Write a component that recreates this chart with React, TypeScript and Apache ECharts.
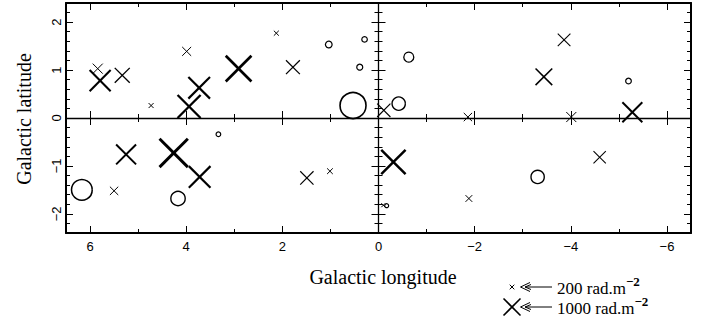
import React, { useEffect, useRef } from "react";
import * as echarts from "echarts";

// ---- Data (galactic longitude, latitude, rotation measure magnitude) ----
const crossLon = [5.84, 5.79, 5.33, 4.73, 3.99, 3.94, 3.73, 2.91, 2.125, 1.78, -0.11, -1.86, -3.86, -3.44, -4.01, -5.28, 5.25, 4.26, 3.72, 5.5, 1.49, 1.01, -0.31, -0.1, -1.88, -4.6];
const crossLat = [1.03, 0.78, 0.89, 0.26, 1.39, 0.24, 0.63, 1.03, 1.77, 1.06, 0.16, 0.02, 1.63, 0.86, 0.02, 0.12, -0.76, -0.73, -1.23, -1.52, -1.25, -1.11, -0.92, -1.82, -1.68, -0.82];
const crossRM = [550, 1260, 870, 225, 480, 1390, 1300, 1560, 225, 800, 760, 440, 720, 980, 550, 1190, 1190, 1730, 1300, 440, 760, 270, 1470, 160, 335, 700];

const circleLon = [1.04, 0.29, 0.39, 0.53, -0.42, -0.63, -5.2, 3.33, 6.17, 4.17, -0.17, -3.31];
const circleLat = [1.56, 1.64, 1.06, 0.26, 0.3, 1.27, 0.77, -0.34, -1.5, -1.68, -1.83, -1.23];
const circleRM = [335, 260, 290, 1580, 760, 550, 270, 205, 1240, 830, 160, 760];

const legendRM = [200, 1000];
const legendLabels = ["200 rad.m", "1000 rad.m"];

const xMajorTicks = [-6, -4, -2, 0, 2, 4, 6];
const xMinorTicks = [-5, -3, -1, 1, 3, 5];
const yMajorTicks = [-2, -1, 0, 1, 2];
const yMinorTicks = [-2.2, -1.8, -1.6, -1.4, -1.2, -0.8, -0.6, -0.4, -0.2, 0.2, 0.4, 0.6, 0.8, 1.2, 1.4, 1.6, 1.8, 2.2];

const X_MIN = -6.5;
const X_MAX = 6.5;
const Y_MIN = -2.4;
const Y_MAX = 2.4;

// ---- Styling helpers ----
const sizeOf = (rm: number) => 1.5 + Math.abs(rm) * 0.0155;
const crossWidth = (s: number) => 1 + Math.max(0, s - 12) * 0.12;
const circleWidth = (s: number) => 1.1 + s * 0.02;
const fmt = (v: number) => String(v).replace("-", "\u2212");

const MAJOR = 7;
const MINOR = 4;
const SANS = "'Liberation Sans', Arial, sans-serif";
const SERIF = "'Liberation Serif', 'Times New Roman', Times, serif";

function xAxisDef(position: string, onZero: boolean, ticks: number[], len: number, lineW: number, labels: boolean) {
  return {
    type: "value",
    min: X_MIN,
    max: X_MAX,
    inverse: true,
    position,
    axisLine: { show: lineW > 0, onZero, onZeroAxisIndex: 0, lineStyle: { color: "#000", width: lineW || 1 } },
    axisTick: { show: true, inside: true, length: len, customValues: ticks, lineStyle: { color: "#000", width: 1 } },
    axisLabel: labels
      ? { show: true, customValues: xMajorTicks, formatter: fmt, margin: 7, fontFamily: SANS, fontSize: 13, color: "#000" }
      : { show: false },
    splitLine: { show: false },
  };
}

function yAxisDef(position: string, onZero: boolean, ticks: number[], len: number, lineW: number, labels: boolean) {
  return {
    type: "value",
    min: Y_MIN,
    max: Y_MAX,
    position,
    axisLine: { show: lineW > 0, onZero, onZeroAxisIndex: 0, lineStyle: { color: "#000", width: lineW || 1 } },
    axisTick: { show: true, inside: true, length: len, customValues: ticks, lineStyle: { color: "#000", width: 1 } },
    axisLabel: labels
      ? { show: true, customValues: yMajorTicks, formatter: fmt, rotate: 90, margin: 3, fontFamily: SANS, fontSize: 13, color: "#000" }
      : { show: false },
    splitLine: { show: false },
  };
}

export default function App() {
  const ref = useRef<HTMLDivElement>(null);

  useEffect(() => {
    if (!ref.current) return;
    const chart = echarts.init(ref.current, null, { renderer: "svg" });

    const crossData = crossLon.map((x, i) => [x, crossLat[i], crossRM[i]]);
    const circleData = circleLon.map((x, i) => [x, circleLat[i], circleRM[i]]);

    const xAxes = [
      xAxisDef("bottom", false, xMajorTicks, MAJOR, 2, true),
      xAxisDef("bottom", false, xMinorTicks, MINOR, 0, false),
      xAxisDef("top", false, xMajorTicks, MAJOR, 2, false),
      xAxisDef("top", false, xMinorTicks, MINOR, 0, false),
      xAxisDef("bottom", true, xMajorTicks, MAJOR, 1.3, false),
      xAxisDef("bottom", true, xMinorTicks, MINOR, 0, false),
      xAxisDef("top", true, xMajorTicks, MAJOR, 0, false),
      xAxisDef("top", true, xMinorTicks, MINOR, 0, false),
    ];
    const yAxes = [
      yAxisDef("left", false, yMajorTicks, MAJOR, 2, true),
      yAxisDef("left", false, yMinorTicks, MINOR, 0, false),
      yAxisDef("right", false, yMajorTicks, MAJOR, 2, false),
      yAxisDef("right", false, yMinorTicks, MINOR, 0, false),
      yAxisDef("left", true, yMajorTicks, MAJOR, 1.3, false),
      yAxisDef("left", true, yMinorTicks, MINOR, 0, false),
      yAxisDef("right", true, yMajorTicks, MAJOR, 0, false),
      yAxisDef("right", true, yMinorTicks, MINOR, 0, false),
    ];

    const crossItem = (cx: number, cy: number, s: number) => {
      const h = s / 2;
      const st = { stroke: "#000", lineWidth: crossWidth(s), fill: "none" };
      return [
        { type: "line", shape: { x1: cx - h, y1: cy - h, x2: cx + h, y2: cy + h }, style: st },
        { type: "line", shape: { x1: cx - h, y1: cy + h, x2: cx + h, y2: cy - h }, style: st },
      ];
    };

    // legend geometry
    const lgX = 512;
    const lgY = [287, 307];
    const legendChildren: any[] = [];
    legendRM.forEach((rm, i) => {
      const s = sizeOf(rm);
      const y = lgY[i];
      crossItem(lgX, y, s).forEach((c) => legendChildren.push(c));
      legendChildren.push({
        type: "polyline",
        shape: { points: [[530, y - 4.5], [520.5, y], [530, y + 4.5]] },
        style: { stroke: "#000", lineWidth: 1, fill: "none" },
      });
      legendChildren.push({
        type: "polyline",
        shape: { points: [[531, y - 2.5], [525, y], [531, y + 2.5]] },
        style: { stroke: "#000", lineWidth: 1, fill: "none" },
      });
      legendChildren.push({
        type: "line",
        shape: { x1: 525, y1: y, x2: 552, y2: y },
        style: { stroke: "#000", lineWidth: 1 },
      });
      legendChildren.push({
        type: "text",
        x: 557,
        y: y - 1.5,
        style: {
          text: `{a|${legendLabels[i]}}{s|\u22122}`,
          fill: "#000",
          textVerticalAlign: "middle",
          rich: {
            a: { fontFamily: SERIF, fontSize: 17, lineHeight: 22, verticalAlign: "bottom" },
            s: { fontFamily: SERIF, fontSize: 13, fontWeight: "bold", lineHeight: 22, verticalAlign: "top" },
          },
        },
      });
    });

    const option: any = {
      animation: false,
      backgroundColor: "#fff",
      textStyle: { fontFamily: SERIF },
      grid: { left: 66, right: 23, top: 3, bottom: 90 },
      xAxis: xAxes,
      yAxis: yAxes,
      series: [
        {
          type: "custom",
          name: "positive",
          xAxisIndex: 0,
          yAxisIndex: 0,
          data: crossData,
          encode: { x: 0, y: 1 },
          clip: false,
          renderItem: (_p: any, api: any) => {
            const [cx, cy] = api.coord([api.value(0), api.value(1)]);
            const s = sizeOf(api.value(2));
            return { type: "group", children: crossItem(cx, cy, s) };
          },
        },
        {
          type: "custom",
          name: "negative",
          xAxisIndex: 0,
          yAxisIndex: 0,
          data: circleData,
          encode: { x: 0, y: 1 },
          clip: false,
          renderItem: (_p: any, api: any) => {
            const [cx, cy] = api.coord([api.value(0), api.value(1)]);
            const s = sizeOf(api.value(2));
            return {
              type: "circle",
              shape: { cx, cy, r: s / 2 },
              style: { fill: "none", stroke: "#000", lineWidth: circleWidth(s) },
            };
          },
        },
      ],
      graphic: [
        {
          type: "text",
          x: 24,
          y: 119,
          rotation: Math.PI / 2,
          style: { text: "Galactic latitude", font: `20px ${SERIF}`, fill: "#000", textAlign: "center", textVerticalAlign: "middle" },
        },
        {
          type: "text",
          x: 383,
          y: 277,
          style: { text: "Galactic longitude", font: `20px ${SERIF}`, fill: "#000", textAlign: "center", textVerticalAlign: "middle" },
        },
        { type: "group", children: legendChildren },
      ],
    };

    chart.setOption(option);
    return () => chart.dispose();
  }, []);

  return <div ref={ref} style={{ position: "fixed", left: 0, top: 0, width: 714, height: 323 }} />;
}
